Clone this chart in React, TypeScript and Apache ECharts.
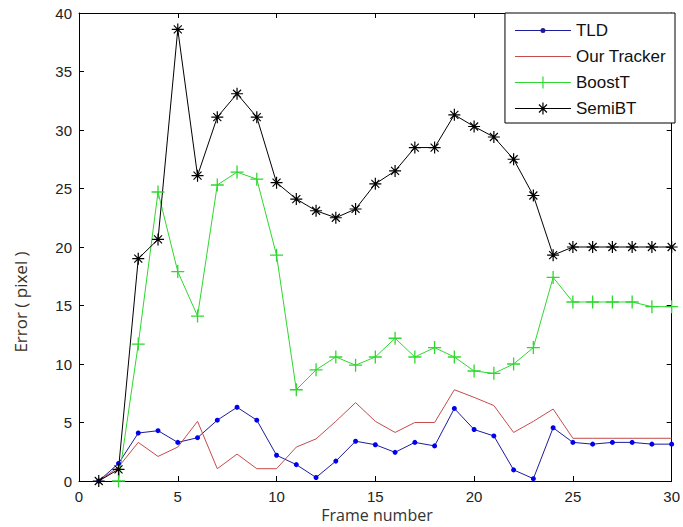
import React, { useEffect, useRef } from "react";
import * as echarts from "echarts";

const frames = [1, 2, 3, 4, 5, 6, 7, 8, 9, 10, 11, 12, 13, 14, 15, 16, 17, 18, 19, 20, 21, 22, 23, 24, 25, 26, 27, 28, 29, 30];
const tld = [0, 1.5, 4.1, 4.3, 3.3, 3.7, 5.2, 6.3, 5.2, 2.2, 1.4, 0.3, 1.7, 3.4, 3.1, 2.45, 3.3, 3.0, 6.2, 4.4, 3.85, 0.95, 0.2, 4.55, 3.3, 3.15, 3.3, 3.3, 3.15, 3.15];
const ourTracker = [0, 1.2, 3.3, 2.1, 2.9, 5.1, 1.05, 2.3, 1.05, 1.05, 2.9, 3.6, 5.1, 6.7, 5.1, 4.15, 5.0, 5.0, 7.8, 7.15, 6.45, 4.15, 5.1, 6.15, 3.65, 3.65, 3.65, 3.65, 3.65, 3.65];
const boostT = [null, 0, 11.7, 24.7, 17.9, 14.1, 25.3, 26.4, 25.8, 19.3, 7.8, 9.5, 10.6, 9.9, 10.6, 12.2, 10.6, 11.4, 10.6, 9.4, 9.2, 10.0, 11.4, 17.4, 15.3, 15.3, 15.3, 15.3, 14.9, 14.9];
const semiBT = [0, 1.0, 19.0, 20.65, 38.6, 26.1, 31.1, 33.1, 31.1, 25.5, 24.1, 23.1, 22.5, 23.25, 25.4, 26.5, 28.5, 28.5, 31.3, 30.3, 29.4, 27.5, 24.4, 19.3, 20.0, 20.0, 20.0, 20.0, 20.0, 20.0];
const seriesNames = ["TLD", "Our Tracker", "BoostT", "SemiBT"];
const xAxisTitle = "Frame number";
const yAxisTitle = "Error ( pixel )";

const PLUS =
  "M5.4,0 L6.6,0 L6.6,5.4 L12,5.4 L12,6.6 L6.6,6.6 L6.6,12 L5.4,12 L5.4,6.6 L0,6.6 L0,5.4 L5.4,5.4 Z";
const DIAG = " M2.4,1.6 L10.4,9.6 L9.6,10.4 L1.6,2.4 Z M9.6,1.6 L10.4,2.4 L2.4,10.4 L1.6,9.6 Z";
const plusPath = "path://" + PLUS;
const starPath = "path://" + PLUS + DIAG;

// legend icons: 56px wide line with the marker in the middle
const legLine = (y: number) => `M0,${y - 0.5} L56,${y - 0.5} L56,${y + 0.5} L0,${y + 0.5} Z`;
const legTLD = "path://" + legLine(2.5) + " M28,0 A2.5,2.5 0 1 1 28,5 A2.5,2.5 0 1 1 28,0 Z";
const legOur = "path://" + legLine(0.5);
const shiftPlus = (s: string) =>
  s.replace(/([ML])([\d.]+),([\d.]+)/g, (_m, c, x, y) => `${c}${(parseFloat(x) + 22).toFixed(1)},${y}`);
const legBoost = "path://" + legLine(6) + " " + shiftPlus(PLUS);
const legSemi = "path://" + legLine(6) + " " + shiftPlus(PLUS + DIAG);

function pairs(vals: (number | null)[]) {
  const out: number[][] = [];
  frames.forEach((f, i) => {
    const v = vals[i];
    if (v !== null && v !== undefined) out.push([f, v]);
  });
  return out;
}

export default function App() {
  const ref = useRef<HTMLDivElement>(null);
  useEffect(() => {
    if (!ref.current) return;
    const chart = echarts.init(ref.current, undefined, { renderer: "svg" });
    const tickFont = { fontFamily: "Liberation Sans, Arial, sans-serif", fontSize: 15, lineHeight: 13, color: "#222" };
    const axisLine = { show: true, onZero: false, lineStyle: { color: "#000", width: 1 } };
    const colors = ["#1c1c9c", "#c44c4c", "#2ed82e", "#000000"];
    chart.setOption({
      animation: false,
      backgroundColor: "#fff",
      grid: { left: 79, right: 8, top: 13, bottom: 46, containLabel: false },
      xAxis: [
        {
          type: "value", min: 0, max: 30, interval: 5,
          axisLine, axisTick: { inside: true, length: 5, lineStyle: { color: "#000" } },
          axisLabel: { ...tickFont, margin: 9 },
          splitLine: { show: false },
        },
        {
          type: "value", position: "top", min: 0, max: 30, interval: 5,
          axisLine, axisTick: { inside: true, length: 5, lineStyle: { color: "#000" } },
          axisLabel: { show: false }, splitLine: { show: false },
        },
      ],
      yAxis: [
        {
          type: "value", min: 0, max: 40, interval: 5,
          axisLine, axisTick: { inside: true, length: 5, lineStyle: { color: "#000" } },
          axisLabel: { ...tickFont, margin: 7 },
          splitLine: { show: false },
        },
        {
          type: "value", position: "right", min: 0, max: 40, interval: 5,
          axisLine, axisTick: { inside: true, length: 5, lineStyle: { color: "#000" } },
          axisLabel: { show: false }, splitLine: { show: false },
        },
      ],
      legend: {
        data: [
          { name: seriesNames[0], icon: legTLD, itemStyle: { color: colors[0] } },
          { name: seriesNames[1], icon: legOur, itemStyle: { color: colors[1] } },
          { name: seriesNames[2], icon: legBoost, itemStyle: { color: colors[2] } },
          { name: seriesNames[3], icon: legSemi, itemStyle: { color: colors[3] } },
        ],
        orient: "vertical",
        right: 8,
        top: 13,
        itemWidth: 56,
        itemHeight: 14,
        itemGap: 9,
        symbolKeepAspect: true,
        padding: [9, 9, 6, 10],
        backgroundColor: "#fff",
        borderColor: "#000",
        borderWidth: 1,
        borderRadius: 0,
        textStyle: { fontFamily: "Liberation Sans, Arial, sans-serif", fontSize: 17, color: "#111" },
      },
      graphic: [
        {
          type: "text", x: 377, y: 515,
          style: { text: xAxisTitle, fontFamily: "Open Sans, sans-serif", fontSize: 16, fill: "#333", textAlign: "center", textVerticalAlign: "middle" },
        },
        {
          type: "text", x: 20, y: 302, rotation: Math.PI / 2,
          style: { text: yAxisTitle, fontFamily: "Open Sans, sans-serif", fontSize: 17, fill: "#3a3020", textAlign: "center", textVerticalAlign: "middle" },
        },
      ],
      series: [
        {
          name: seriesNames[0], type: "line", data: pairs(tld),
          symbol: "circle", symbolSize: 5,
          lineStyle: { color: colors[0], width: 1 },
          itemStyle: { color: "#0000ee" },
        },
        {
          name: seriesNames[1], type: "line", data: pairs(ourTracker),
          symbol: "none",
          lineStyle: { color: colors[1], width: 1 },
          itemStyle: { color: colors[1] },
        },
        {
          name: seriesNames[2], type: "line", data: pairs(boostT),
          symbol: plusPath, symbolSize: 13,
          lineStyle: { color: colors[2], width: 1 },
          itemStyle: { color: colors[2] },
        },
        {
          name: seriesNames[3], type: "line", data: pairs(semiBT),
          symbol: starPath, symbolSize: 12,
          lineStyle: { color: colors[3], width: 1 },
          itemStyle: { color: colors[3] },
        },
      ],
    });
    return () => chart.dispose();
  }, []);
  return <div ref={ref} style={{ position: "fixed", left: 0, top: 0, width: 683, height: 527 }} />;
}
